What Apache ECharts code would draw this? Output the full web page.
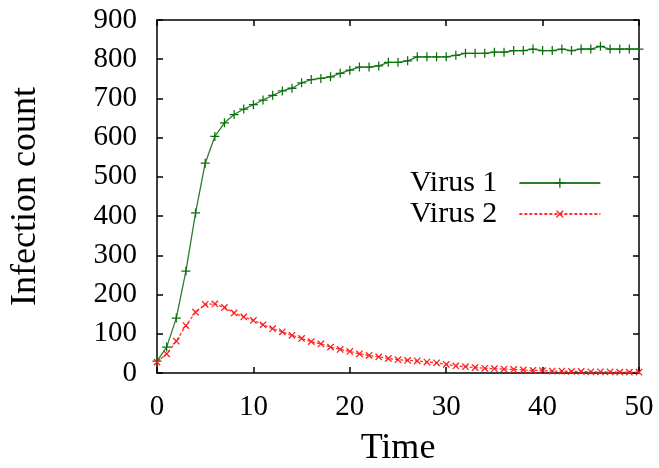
<!DOCTYPE html>
<html>
<head>
<meta charset="utf-8">
<script src="https://cdn.jsdelivr.net/npm/echarts@6/dist/echarts.min.js"></script>
<style>
  html, body { margin: 0; padding: 0; background: #fff; }
  #container { width: 659px; height: 468px; }
</style>
</head>
<body>
<div id="container"></div>
<script>
  // values, one point per time step
  var times = [0,1,2,3,4,5,6,7,8,9,10,11,12,13,14,15,16,17,18,19,20,21,22,23,24,25,
    26,27,28,29,30,31,32,33,34,35,36,37,38,39,40,41,42,43,44,45,46,47,48,49,50];
  var virus1 = [30,66,140,260,408,535,603,638,659,673,684,696,708,719,726,740,748,751,755,764,772,780,780,783,792,792,
    796,806,806,806,806,810,815,815,815,818,818,822,822,826,822,822,826,822,826,826,833,826,826,826,826];
  var virus2 = [28,49,81,121,155,175,176,167,153,143,134,123,113,105,96,88,80,74,66,60,55,49,45,41,37,34,
    32,31,28,26,22,18,16,14,12,11,10,9,8,7,6,5,5,4,4,3,3,3,2,2,2];
  var seriesNames = ['Virus 1', 'Virus 2'];

  var serif = 'Liberation Serif';
  var cross = 'path://M4.3,0H5.7V4.3H10V5.7H5.7V10H4.3V5.7H0V4.3H4.3Z';

  function pairs(vals) {
    var out = [];
    for (var i = 0; i < times.length; i++) out.push([times[i], vals[i]]);
    return out;
  }

  var myChart = echarts.init(document.getElementById('container'));

  var axisBase = {
    type: 'value',
    axisLine: {show: true, onZero: false, lineStyle: {color: '#000', width: 1.5}},
    axisTick: {show: true, inside: true, length: 6, lineStyle: {color: '#000', width: 1.5}},
    splitLine: {show: false}
  };

  var option = {
    backgroundColor: '#fff',
    animation: false,
    grid: {left: 157, right: 20, top: 20, bottom: 95, outerBoundsMode: 'none', containLabel: false},
    legend: {
      orient: 'vertical',
      left: 405,
      top: 163,
      align: 'right',
      itemWidth: 81,
      itemHeight: 12,
      itemGap: 1,
      data: seriesNames,
      textStyle: {fontFamily: serif, fontSize: 30, color: '#000', padding: [0, 17, 0, 0]}
    },
    xAxis: [
      Object.assign({}, axisBase, {
        min: 0, max: 50, interval: 10, position: 'bottom',
        name: 'Time', nameLocation: 'middle', nameGap: 58,
        nameTextStyle: {fontFamily: serif, fontSize: 36, color: '#000'},
        axisLabel: {fontFamily: serif, fontSize: 29, color: '#000', margin: 20}
      }),
      Object.assign({}, axisBase, {
        min: 0, max: 50, interval: 10, position: 'top', axisLabel: {show: false}
      })
    ],
    yAxis: [
      Object.assign({}, axisBase, {
        min: 0, max: 900, interval: 100, position: 'left',
        name: 'Infection count', nameLocation: 'middle', nameGap: 113,
        nameTextStyle: {fontFamily: serif, fontSize: 36, color: '#000'},
        axisLabel: {fontFamily: serif, fontSize: 29, color: '#000', margin: 20, padding: [0, 0, 5, 0]}
      }),
      Object.assign({}, axisBase, {
        min: 0, max: 900, interval: 100, position: 'right', axisLabel: {show: false}
      })
    ],
    series: [
      {
        name: seriesNames[0],
        type: 'line',
        data: pairs(virus1),
        symbol: cross,
        symbolSize: 9,
        showAllSymbol: true,
        itemStyle: {color: '#0a700a'},
        lineStyle: {color: '#2e7d2e', width: 1.3, type: 'solid'}
      },
      {
        name: seriesNames[1],
        type: 'line',
        data: pairs(virus2),
        symbol: cross,
        symbolRotate: 45,
        symbolSize: 9,
        showAllSymbol: true,
        itemStyle: {color: '#ff1a1a'},
        lineStyle: {color: '#ff3030', width: 1.3, type: [3, 2]}
      }
    ]
  };

  myChart.setOption(option);
</script>
</body>
</html>
